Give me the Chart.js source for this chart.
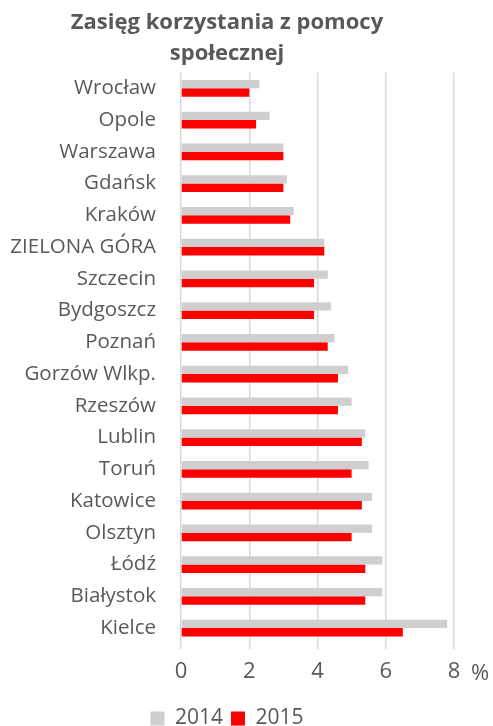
<!DOCTYPE html>
<html>
<head>
<meta charset="utf-8">
<script src="https://cdn.jsdelivr.net/npm/chart.js@4"></script>
<style>
  html, body { margin: 0; padding: 0; background: #fff; }
  #wrap { width: 493px; height: 726px; }
</style>
</head>
<body>
<div id="wrap"><canvas id="helpChart"></canvas></div>
<script>
// data
const cities = ["Wrocław", "Opole", "Warszawa", "Gdańsk", "Kraków", "ZIELONA GÓRA",
  "Szczecin", "Bydgoszcz", "Poznań", "Gorzów Wlkp.", "Rzeszów", "Lublin", "Toruń",
  "Katowice", "Olsztyn", "Łódź", "Białystok", "Kielce"];
const values2014 = [2.3, 2.6, 3.0, 3.1, 3.3, 4.2, 4.3, 4.4, 4.5, 4.9, 5.0, 5.4, 5.5, 5.6, 5.6, 5.9, 5.9, 7.8];
const values2015 = [2.0, 2.2, 3.0, 3.0, 3.2, 4.2, 3.9, 3.9, 4.3, 4.6, 4.6, 5.3, 5.0, 5.3, 5.0, 5.4, 5.4, 6.5];
const tickValues = [0, 2, 4, 6, 8];

const textColor = "#595959";
const fontFamily = "'Open Sans', sans-serif";

// draws the "%" unit right after the last tick label
const percentSign = {
  id: "percentSign",
  afterDraw(chart) {
    const x = chart.scales.x;
    const ctx = chart.ctx;
    ctx.save();
    ctx.font = "22px " + fontFamily;
    ctx.fillStyle = textColor;
    ctx.textAlign = "left";
    ctx.textBaseline = "middle";
    const last = tickValues[tickValues.length - 1];
    ctx.fillText("%", x.getPixelForValue(last) + 17, x.top + 30);
    ctx.restore();
  }
};

const ctx = document.getElementById("helpChart").getContext("2d");

let helpChart = new Chart(ctx, {
  type: "bar",
  data: {
    labels: cities,
    datasets: [
      { label: "2014", data: values2014, backgroundColor: "#d0cece" },
      { label: "2015", data: values2015, backgroundColor: "#ff0000" }
    ]
  },
  options: {
    indexAxis: "y",
    responsive: true,
    maintainAspectRatio: false,
    animation: false,
    layout: { padding: { left: 0, right: 39, top: 0, bottom: -13 } },
    datasets: { bar: { categoryPercentage: 0.53, barPercentage: 1 } },
    scales: {
      x: {
        min: 0,
        max: 8,
        afterBuildTicks: scale => { scale.ticks = tickValues.map(v => ({ value: v })); },
        afterFit: scale => { scale.height = 56; },
        ticks: { color: textColor, font: { family: fontFamily, size: 22 }, padding: 10 },
        grid: { color: "#d9d9d9", lineWidth: 1.5, tickLength: 5 },
        border: { display: false }
      },
      y: {
        afterFit: scale => { scale.width = 181; },
        ticks: { color: textColor, font: { family: fontFamily, size: 20.5 }, padding: 17 },
        grid: { display: false },
        border: { display: false }
      }
    },
    plugins: {
      title: {
        display: true,
        text: ["Zasięg korzystania z pomocy", "społecznej"],
        color: textColor,
        font: { family: fontFamily, size: 22, weight: "bold", lineHeight: 1.42 },
        padding: { top: 7, bottom: 3 }
      },
      legend: {
        position: "bottom",
        labels: {
          color: textColor,
          font: { family: fontFamily, size: 21, lineHeight: 0.6 },
          boxWidth: 14,
          boxHeight: 14,
          padding: 8
        }
      },
      tooltip: { enabled: false }
    }
  },
  plugins: [percentSign]
});
</script>
</body>
</html>
